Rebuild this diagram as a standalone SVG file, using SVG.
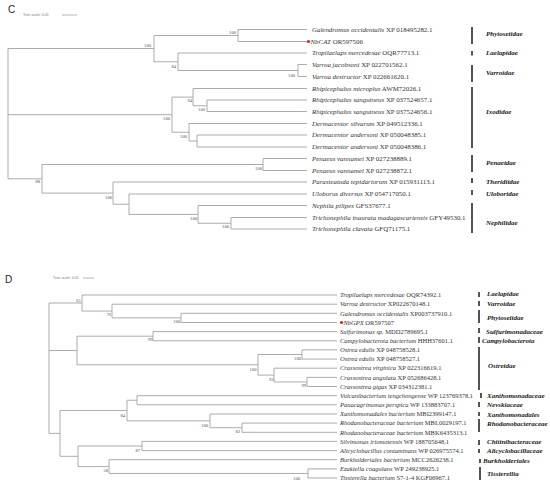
<svg xmlns="http://www.w3.org/2000/svg" width="550" height="487" viewBox="0 0 550 487">
<style>
.br{fill:none;stroke:#a3a3a3;stroke-width:0.9}
.bar{stroke:#1a1a1a;stroke-width:1.5}
.lc{font-family:"Liberation Serif",serif;font-size:6.9px;fill:#333}
.ld{font-family:"Liberation Serif",serif;font-size:6.5px;fill:#333}
.sp{font-style:italic}
.fam{font-family:"Liberation Serif",serif;font-size:7px;font-style:italic;font-weight:bold;fill:#1a1a1a}
.bs{font-family:"Liberation Serif",serif;font-size:4.6px;fill:#555;text-anchor:end}
.pl{font-family:"Liberation Sans",sans-serif;font-size:10px;fill:#222}
.ts{font-family:"Liberation Sans",sans-serif;font-size:3.6px;fill:#777}
.sc{stroke:#888;stroke-width:0.6}
</style>

<text class="pl" x="8" y="12.5">C</text>
<text class="ts" x="23" y="16.3">Tree scale: 0.01</text>
<line class="sc" x1="62" y1="15" x2="77" y2="15"/>
<text class="pl" x="5" y="283">D</text>
<text class="ts" x="53" y="279.3">Tree scale: 0.01</text>
<line class="sc" x1="83" y1="278" x2="94" y2="278"/>

<g id="connectors">
<path class="br" d="M8,48.5V178.8 M8,48.5H154 M154,35.5V61.75 M154,35.5H238 M238,29.5V41.5 M238,29.5H307 M238,41.5H307 M154,61.75H178 M178,53V70.5 M178,53H307 M178,70.5H298 M298,64.5V76.5 M298,64.5H307 M298,76.5H307
M8,114.7H172 M172,97.1V132.25 M172,97.1H193 M193,88.5V105.75 M193,88.5H307 M193,105.75H207 M207,100V111.5 M207,100H307 M207,111.5H307 M172,132.25H189 M189,123.5V141 M189,123.5H307 M189,141H197 M197,135V147 M197,135H307 M197,147H307
M8,178.8H42 M42,164.5V193.1 M42,164.5H263 M263,158.5V170.5 M263,158.5H307 M263,170.5H307 M42,193.1H113 M113,182V204.2 M113,182H307 M113,204.2H129 M129,194V214.4 M129,194H307 M129,214.4H198 M198,205.5V223.25 M198,205.5H307 M198,223.25H231 M231,217.5V229 M231,217.5H307 M231,229H307"/>
<path class="br" d="M49,303V433.4 M49,303H82 M82,295V311.05 M82,295H337 M82,311.05H112 M112,304.2V317.9 M112,304.2H337 M112,317.9H181 M181,313.3V322.5 M181,313.3H337 M181,322.5H337
M49,350.5H77 M77,336.2V364.8 M77,336.2H153 M153,331.6V340.8 M153,331.6H337 M153,340.8H337 M77,364.8H258 M258,354.5V375.1 M258,354.5H302 M302,349.9V359.1 M302,349.9H337 M302,359.1H337 M258,375.1H274 M274,368.2V381.95 M274,368.2H337 M274,381.95H307 M307,377.4V386.5 M307,377.4H337 M307,386.5H337
M49,433.4H60 M60,410.55V456.3 M60,410.55H127 M127,400.25V420.85 M127,400.25H137 M137,395.7V404.8 M137,395.7H337 M137,404.8H337 M127,420.85H210 M210,414V427.7 M210,414H337 M210,427.7H242 M242,423.1V432.3 M242,423.1H337 M242,432.3H337
M60,456.3H78 M78,446V466.6 M78,446H142 M142,441.4V450.6 M142,441.4H337 M142,450.6H337 M78,466.6H109 M109,459.7V473.45 M109,459.7H337 M109,473.45H308 M308,468.9V478 M308,468.9H337 M308,478H337"/>
</g>

<g id="bootstrap-C">
<text class="bs" x="151" y="46.5">100</text>
<text class="bs" x="236" y="33.5">100</text>
<text class="bs" x="176" y="67.5">84</text>
<text class="bs" x="295" y="76.5">100</text>
<text class="bs" x="170" y="120">100</text>
<text class="bs" x="192" y="101.5">94</text>
<text class="bs" x="205" y="110.5">100</text>
<text class="bs" x="187" y="137.5">100</text>
<text class="bs" x="40" y="182.5">88</text>
<text class="bs" x="262" y="169.5">100</text>
<text class="bs" x="112" y="198.5">100</text>
<text class="bs" x="197" y="219.5">100</text>
<text class="bs" x="229" y="227.5">100</text>
</g>
<g id="bootstrap-D">
<text class="bs" x="80.5" y="301.7">65</text>
<text class="bs" x="111" y="315.7">76</text>
<text class="bs" x="180" y="322.7">100</text>
<text class="bs" x="152.5" y="340.7">99</text>
<text class="bs" x="256.5" y="370.7">100</text>
<text class="bs" x="301" y="359.7">100</text>
<text class="bs" x="273.5" y="380.7">93</text>
<text class="bs" x="306" y="386.7">99</text>
<text class="bs" x="125" y="416.7">84</text>
<text class="bs" x="208" y="426.7">100</text>
<text class="bs" x="240" y="432.7">82</text>
<text class="bs" x="140" y="451.7">87</text>
<text class="bs" x="108" y="471.7">58</text>
<text class="bs" x="300" y="479.7">100</text>
</g>

<g id="leaves-C">
<text class="lc" x="312" y="31.8"><tspan class="sp">Galendromus occidentalis</tspan> XP 018495282.1</text>
<circle cx="308.5" cy="41.5" r="1.6" fill="#e0201b"/>
<text class="lc" x="310.5" y="43.8"><tspan class="sp">NbCAT</tspan> OR597506</text>
<text class="lc" x="312" y="55.3"><tspan class="sp">Tropilaelaps mercedesae</tspan> OQR77713.1</text>
<text class="lc" x="312" y="66.8"><tspan class="sp">Varroa jacobsoni</tspan> XP 022701562.1</text>
<text class="lc" x="312" y="78.8"><tspan class="sp">Varroa destructor</tspan> XP 022661620.1</text>
<text class="lc" x="312" y="90.8"><tspan class="sp">Rhipicephalus microplus</tspan> AWM72026.1</text>
<text class="lc" x="312" y="102.3"><tspan class="sp">Rhipicephalus sanguineus</tspan> XP 037524657.1</text>
<text class="lc" x="312" y="113.8"><tspan class="sp">Rhipicephalus sanguineus</tspan> XP 037524656.1</text>
<text class="lc" x="312" y="125.8"><tspan class="sp">Dermacentor silvarum</tspan> XP 049512336.1</text>
<text class="lc" x="312" y="137.3"><tspan class="sp">Dermacentor andersoni</tspan> XP 050048385.1</text>
<text class="lc" x="312" y="149.3"><tspan class="sp">Dermacentor andersoni</tspan> XP 050048386.1</text>
<text class="lc" x="312" y="160.8"><tspan class="sp">Penaeus vannamei</tspan> XP 027238889.1</text>
<text class="lc" x="312" y="172.8"><tspan class="sp">Penaeus vannamei</tspan> XP 027238872.1</text>
<text class="lc" x="312" y="184.3"><tspan class="sp">Parasteatoda tepidariorum</tspan> XP 015931113.1</text>
<text class="lc" x="312" y="196.3"><tspan class="sp">Uloborus diversus</tspan> XP 054717050.1</text>
<text class="lc" x="312" y="207.8"><tspan class="sp">Nephila pilipes</tspan> GFS37677.1</text>
<text class="lc" x="312" y="219.8"><tspan class="sp">Trichonephila inaurata madagascariensis</tspan> GFY49530.1</text>
<text class="lc" x="312" y="231.3"><tspan class="sp">Trichonephila clavata</tspan> GFQ71175.1</text>
</g>

<g id="leaves-D">
<text class="ld" x="340" y="297.2"><tspan class="sp">Tropilaelaps mercedesae</tspan> OQR74392.1</text>
<text class="ld" x="340" y="306.4"><tspan class="sp">Varroa destructor</tspan> XP022670148.1</text>
<text class="ld" x="340" y="315.5"><tspan class="sp">Galendromus occidentalis</tspan> XP003737910.1</text>
<circle cx="341.5" cy="322.5" r="1.6" fill="#e0201b"/>
<text class="ld" x="343.5" y="324.7"><tspan class="sp">NbGPX</tspan> OR597507</text>
<text class="ld" x="340" y="333.8"><tspan class="sp">Sulfurimonas sp.</tspan> MDD2789695.1</text>
<text class="ld" x="340" y="343"><tspan class="sp">Campylobacterota bacterium</tspan> HHH37601.1</text>
<text class="ld" x="340" y="352.1"><tspan class="sp">Ostrea edulis</tspan> XP 048758528.1</text>
<text class="ld" x="340" y="361.3"><tspan class="sp">Ostrea edulis</tspan> XP 048758527.1</text>
<text class="ld" x="340" y="370.4"><tspan class="sp">Crassostrea virginica</tspan> XP 022316619.1</text>
<text class="ld" x="340" y="379.6"><tspan class="sp">Crassostrea angulata</tspan> XP 052686428.1</text>
<text class="ld" x="340" y="388.7"><tspan class="sp">Crassostrea gigas</tspan> XP 034312381.1</text>
<text class="ld" x="340" y="397.9"><tspan class="sp">Vulcanibacterium tengchongense</tspan> WP 123769378.1</text>
<text class="ld" x="340" y="407"><tspan class="sp">Panacagrimonas perspica</tspan> WP 133883707.1</text>
<text class="ld" x="340" y="416.2"><tspan class="sp">Xanthomonadales bacterium</tspan> MBI2399147.1</text>
<text class="ld" x="340" y="425.3"><tspan class="sp">Rhodanobacteraceae bacterium</tspan> MBL0029197.1</text>
<text class="ld" x="340" y="434.5"><tspan class="sp">Rhodanobacteraceae bacterium</tspan> MBK6435313.1</text>
<text class="ld" x="340" y="443.6"><tspan class="sp">Silvimonas iriomotensis</tspan> WP 188705648.1</text>
<text class="ld" x="340" y="452.8"><tspan class="sp">Alicyclobacillus contaminans</tspan> WP 026975574.1</text>
<text class="ld" x="340" y="461.9"><tspan class="sp">Burkholderiales bacterium</tspan> MCC2626238.1</text>
<text class="ld" x="340" y="471.1"><tspan class="sp">Ezakiella coagulans</tspan> WP 249238925.1</text>
<text class="ld" x="340" y="480.2"><tspan class="sp">Tissierella bacterium</tspan> S7-1-4 KGF06967.1</text>
</g>

<g id="families-C">
<line class="bar" x1="472" y1="27" x2="472" y2="44"/><text class="fam" x="486" y="35.5">Phytoseiidae</text>
<line class="bar" x1="472" y1="51" x2="472" y2="55.5"/><text class="fam" x="486" y="55">Laelapidae</text>
<line class="bar" x1="472" y1="65" x2="472" y2="82"/><text class="fam" x="486" y="74.5">Varroidae</text>
<line class="bar" x1="472" y1="87" x2="472" y2="148"/><text class="fam" x="486" y="113.5">Ixodidae</text>
<line class="bar" x1="472" y1="155" x2="472" y2="172"/><text class="fam" x="486" y="164.5">Penaeidae</text>
<line class="bar" x1="472" y1="178" x2="472" y2="183"/><text class="fam" x="486" y="183.5">Theridiidae</text>
<line class="bar" x1="472" y1="190" x2="472" y2="195"/><text class="fam" x="486" y="195.5">Uloboridae</text>
<line class="bar" x1="472" y1="203" x2="472" y2="233"/><text class="fam" x="486" y="224.5">Nephilidae</text>
</g>

<g id="families-D">
<line class="bar" x1="479" y1="292" x2="479" y2="297"/><text class="fam" x="487" y="295.5">Laelapidae</text>
<line class="bar" x1="479" y1="301" x2="479" y2="306"/><text class="fam" x="487" y="305.5">Varroidae</text>
<line class="bar" x1="479" y1="310" x2="479" y2="323"/><text class="fam" x="487" y="319.5">Phytoseiidae</text>
<line class="bar" x1="479" y1="328" x2="479" y2="333"/><text class="fam" x="486" y="333.5">Sulfurimonadaceae</text>
<line class="bar" x1="479" y1="337" x2="479" y2="343"/><text class="fam" x="482" y="342.5">Campylobacterota</text>
<line class="bar" x1="479" y1="347" x2="479" y2="390"/><text class="fam" x="488" y="367.5">Ostreidae</text>
<line class="bar" x1="481" y1="393" x2="481" y2="398"/><text class="fam" x="487" y="397.5">Xanthomonadaceae</text>
<line class="bar" x1="479" y1="402" x2="479" y2="407"/><text class="fam" x="487" y="406.5">Nevskiaceae</text>
<line class="bar" x1="479" y1="412" x2="479" y2="416"/><text class="fam" x="487" y="416.5">Xanthomonadales</text>
<line class="bar" x1="479" y1="419" x2="479" y2="432"/><text class="fam" x="487" y="425.5">Rhodanobacteraceae</text>
<line class="bar" x1="479" y1="440" x2="479" y2="445"/><text class="fam" x="487" y="443.5">Chitinibacteraceae</text>
<line class="bar" x1="479" y1="449" x2="479" y2="453"/><text class="fam" x="487" y="452.5">Alicyclobacillaceae</text>
<line class="bar" x1="480" y1="459" x2="480" y2="463"/><text class="fam" x="483" y="462.5">Burkholderiales</text>
<line class="bar" x1="480" y1="467" x2="480" y2="480"/><text class="fam" x="487" y="475.5">Tissierellia</text>
</g>
</svg>
